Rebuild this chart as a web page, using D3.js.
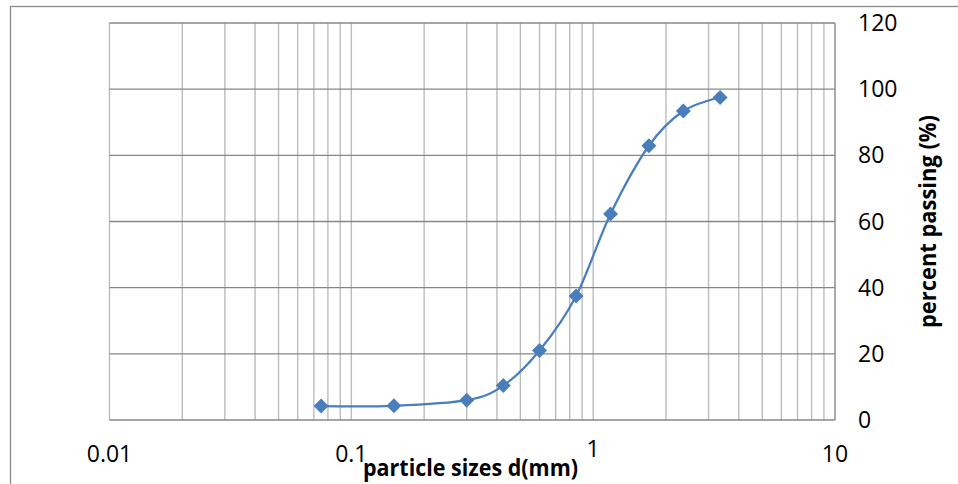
<!DOCTYPE html>
<html>
<head>
<meta charset="utf-8">
<script src="https://cdn.jsdelivr.net/npm/d3@7/dist/d3.min.js"></script>
<style>
  body { margin: 0; background: #fff; }
  text { font-family: "Open Sans", "Noto Sans", sans-serif; fill: #000; }
</style>
</head>
<body>
<div id="chart"></div>
<script>
// sieve sizes (mm) and percent passing
var sieveSizes = [0.075, 0.15, 0.3, 0.425, 0.6, 0.85, 1.18, 1.7, 2.36, 3.35];
var percentPassing = [4.2, 4.3, 6.0, 10.4, 21.0, 37.5, 62.3, 82.9, 93.4, 97.5];

var xTickLabels = [0.01, 0.1, 1, 10];
var yTickLabels = [0, 20, 40, 60, 80, 100, 120];

var svgWidth = 958;
var svgHeight = 484;

var plot = { left: 109.5, right: 835, top: 23, bottom: 420 };

var svg = d3.select("#chart")
    .append("svg")
    .attr("width", svgWidth)
    .attr("height", svgHeight);

// outer chart frame (cut off at right and bottom)
svg.append("rect")
    .attr("x", 10.5)
    .attr("y", 6.5)
    .attr("width", svgWidth + 20)
    .attr("height", svgHeight + 20)
    .attr("fill", "none")
    .attr("stroke", "#8a8a8a")
    .attr("stroke-width", 1.3);

var xLogScale = d3.scaleLog()
    .domain([0.01, 10])
    .range([plot.left, plot.right]);

var yLinearScale = d3.scaleLinear()
    .domain([0, 120])
    .range([plot.bottom, plot.top]);

// vertical grid: every 1..9 of each decade
var vLines = [];
[0.01, 0.1, 1].forEach(function (dec) {
    for (var k = 1; k <= 9; k++) vLines.push(dec * k);
});

svg.append("g")
    .selectAll("line")
    .data(vLines)
    .enter()
    .append("line")
    .attr("x1", d => xLogScale(d))
    .attr("x2", d => xLogScale(d))
    .attr("y1", plot.top)
    .attr("y2", plot.bottom)
    .attr("stroke", "#bcbcbc")
    .attr("stroke-width", 1.4);

// horizontal grid
svg.append("g")
    .selectAll("line")
    .data(yTickLabels)
    .enter()
    .append("line")
    .attr("x1", plot.left)
    .attr("x2", plot.right)
    .attr("y1", d => yLinearScale(d))
    .attr("y2", d => yLinearScale(d))
    .attr("stroke", "#878787")
    .attr("stroke-width", 1.4);

// right edge of plot
svg.append("line")
    .attr("x1", xLogScale(10))
    .attr("x2", xLogScale(10))
    .attr("y1", plot.top)
    .attr("y2", plot.bottom)
    .attr("stroke", "#878787")
    .attr("stroke-width", 1.4);

// y tick labels on the right
svg.append("g")
    .selectAll("text")
    .data(yTickLabels)
    .enter()
    .append("text")
    .attr("x", 858)
    .attr("y", d => yLinearScale(d) + 8)
    .attr("font-size", "23px")
    .text(d => d);

// x tick labels
svg.append("g")
    .selectAll("text")
    .data(xTickLabels)
    .enter()
    .append("text")
    .attr("x", d => xLogScale(d))
    .attr("y", d => d === 1 ? 457 : 462)
    .attr("text-anchor", "middle")
    .attr("font-size", "23px")
    .text(d => d);

// smoothed line
var points = sieveSizes.map((s, i) => [s, percentPassing[i]]);

var line = d3.line()
    .x(d => xLogScale(d[0]))
    .y(d => yLinearScale(d[1]))
    .curve(d3.curveCardinal.tension(0));

svg.append("path")
    .datum(points)
    .attr("d", line)
    .attr("fill", "none")
    .attr("stroke", "#4a7ebb")
    .attr("stroke-width", 2.25);

// diamond markers
svg.append("g")
    .selectAll("path")
    .data(points)
    .enter()
    .append("path")
    .attr("d", d3.symbol().type(d3.symbolSquare).size(112))
    .attr("transform", d => `translate(${xLogScale(d[0])}, ${yLinearScale(d[1])}) rotate(45)`)
    .attr("fill", "#4a7ebb");

// axis titles
svg.append("text")
    .attr("x", 470.5)
    .attr("y", 476)
    .attr("text-anchor", "middle")
    .attr("font-size", "23px")
    .attr("font-weight", "bold")
    .attr("textLength", 215)
    .attr("lengthAdjust", "spacingAndGlyphs")
    .text("particle sizes d(mm)");

svg.append("text")
    .attr("transform", `translate(936, ${(plot.top + plot.bottom) / 2}) rotate(-90)`)
    .attr("text-anchor", "middle")
    .attr("font-size", "23px")
    .attr("font-weight", "bold")
    .attr("textLength", 213)
    .attr("lengthAdjust", "spacingAndGlyphs")
    .text("percent passing (%)");
</script>
</body>
</html>
